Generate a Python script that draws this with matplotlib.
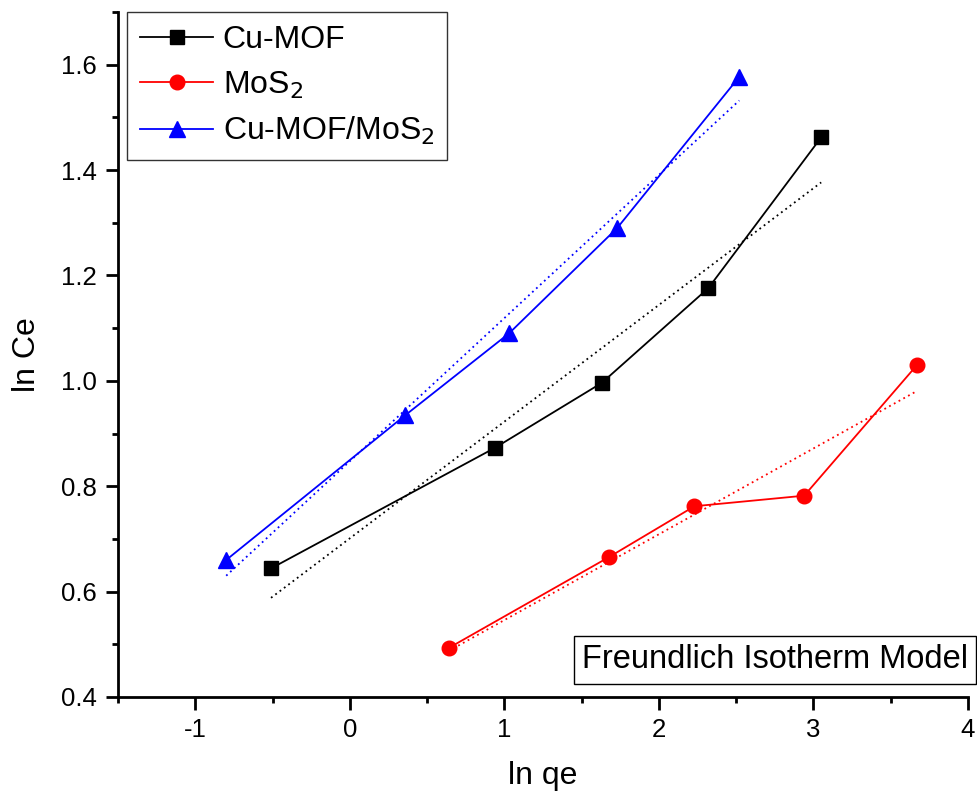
import matplotlib
import matplotlib.pyplot as plt
import numpy as np
from matplotlib.ticker import MultipleLocator, FormatStrFormatter

matplotlib.use("Agg")

plt.rcParams["font.family"] = ["Liberation Sans", "DejaVu Sans"]
plt.rcParams["axes.unicode_minus"] = False

# ln qe / ln Ce
cu_x = [-0.51, 0.94, 1.63, 2.32, 3.05]
cu_y = [0.644, 0.873, 0.996, 1.176, 1.462]
mos_x = [0.64, 1.68, 2.23, 2.94, 3.67]
mos_y = [0.493, 0.666, 0.762, 0.782, 1.030]
mix_x = [-0.80, 0.36, 1.03, 1.73, 2.52]
mix_y = [0.660, 0.935, 1.090, 1.290, 1.577]

series = [
    (cu_x, cu_y, "black", "s", 10, "Cu-MOF"),
    (mos_x, mos_y, "red", "o", 10.5, "MoS$_2$"),
    (mix_x, mix_y, "blue", "^", 12, "Cu-MOF/MoS$_2$"),
]


def main() -> None:
    fig = plt.figure(figsize=(9.77, 7.98), dpi=100)
    ax = fig.add_axes([0.1208, 0.1266, 0.87, 0.8584])

    for xs, ys, color, marker, ms, label in series:
        ax.plot(xs, ys, color=color, marker=marker, markersize=ms, linewidth=1.3,
                label=label)
        # linear fit (dotted)
        coeffs = np.polyfit(xs, ys, 1)
        fx = np.array([min(xs), max(xs)])
        ax.plot(fx, np.polyval(coeffs, fx), color=color, linestyle=(0, (1, 2)),
                linewidth=1.3)

    ax.set_xlim(-1.5, 4)
    ax.set_ylim(0.4, 1.7)
    ax.xaxis.set_major_locator(MultipleLocator(1))
    ax.xaxis.set_minor_locator(MultipleLocator(0.5))
    ax.yaxis.set_major_locator(MultipleLocator(0.2))
    ax.yaxis.set_minor_locator(MultipleLocator(0.1))
    ax.yaxis.set_major_formatter(FormatStrFormatter("%.1f"))
    ax.tick_params(which="major", direction="out", length=9, width=2, labelsize=18.5, pad=6)
    ax.tick_params(which="minor", direction="out", length=4.5, width=2)

    for side in ["top", "right"]:
        ax.spines[side].set_visible(False)
    for side in ["left", "bottom"]:
        ax.spines[side].set_linewidth(2)

    ax.set_xlabel("ln qe", fontsize=23, labelpad=14)
    ax.set_ylabel("ln Ce", fontsize=23, labelpad=14)

    leg = ax.legend(loc="upper left", bbox_to_anchor=(0.0106, 1.0), fontsize=23,
                    frameon=True, fancybox=False, edgecolor="black",
                    handlelength=2.3, borderpad=0.4, labelspacing=0.45,
                    handletextpad=0.3, borderaxespad=0.0)
    leg.get_frame().set_linewidth(1.0)

    ax.text(1.0, 0.054, "Freundlich Isotherm Model", transform=ax.transAxes,
            ha="right", va="center", fontsize=23.5,
            bbox=dict(boxstyle="square,pad=0.25", facecolor="white",
                      edgecolor="black", linewidth=1.0))

    fig.savefig("out.png", dpi=100)
    plt.close(fig)


if __name__ == "__main__":
    main()
